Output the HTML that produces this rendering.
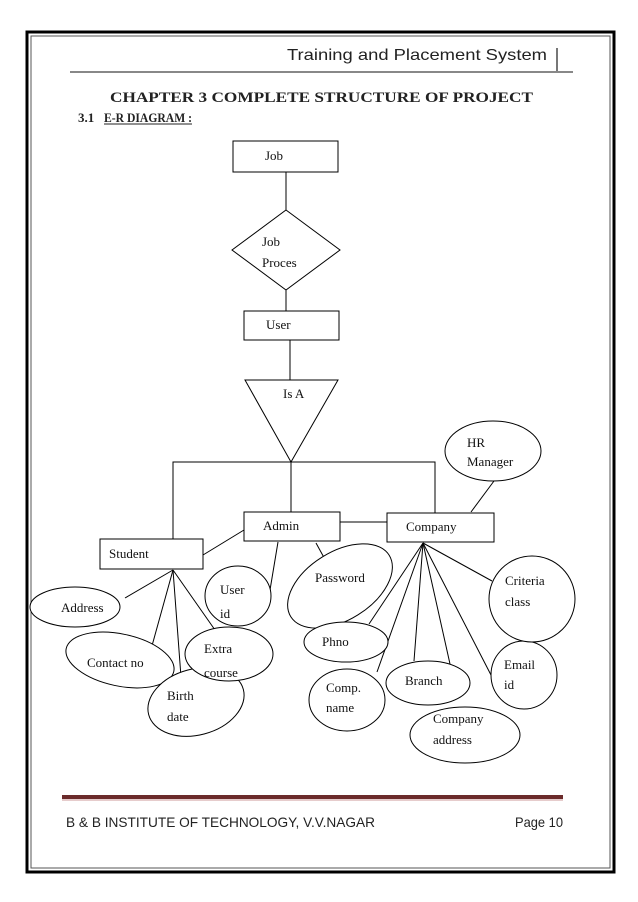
<!DOCTYPE html>
<html><head><meta charset="utf-8"><style>
html,body{margin:0;padding:0;background:#fff}
svg{display:block}
</style></head><body>
<svg width="638" height="902" viewBox="0 0 638 902" xmlns="http://www.w3.org/2000/svg">
<defs>
<clipPath id="cx"><ellipse cx="229" cy="654" rx="44" ry="27"/></clipPath>
<clipPath id="cu"><ellipse cx="238" cy="596" rx="33" ry="30"/></clipPath>
</defs>
<rect x="27" y="32" width="587" height="840" fill="none" stroke="#000" stroke-width="3"/>
<rect x="31" y="36" width="579" height="832" fill="none" stroke="#555" stroke-width="1"/>
<g font-family="Liberation Sans, sans-serif" font-size="16" fill="#222">
<text x="287" y="60" textLength="260" lengthAdjust="spacingAndGlyphs">Training and Placement System</text>
</g>
<line x1="557" y1="48" x2="557" y2="72" stroke="#777" stroke-width="2"/>
<line x1="70" y1="72" x2="573" y2="72" stroke="#888" stroke-width="2"/>
<g font-family="Liberation Serif, serif" font-weight="bold" fill="#222">
<text x="110" y="102" font-size="15" textLength="423" lengthAdjust="spacingAndGlyphs">CHAPTER 3 COMPLETE STRUCTURE  OF PROJECT</text>
<text x="78" y="122" font-size="13">3.1</text>
<text x="104" y="122" font-size="13" textLength="88" lengthAdjust="spacingAndGlyphs">E-R DIAGRAM :</text>
</g>
<line x1="104" y1="124" x2="192" y2="124" stroke="#222" stroke-width="1"/>
<g stroke="#000" stroke-width="1" fill="#fff">
<rect x="233" y="141" width="105" height="31"/>
<line x1="286" y1="172" x2="286" y2="210"/>
<polygon points="286,210 340,250 286,290 232,250"/>
<line x1="286" y1="290" x2="286" y2="311"/>
<rect x="244" y="311" width="95" height="29"/>
<line x1="290" y1="340" x2="290" y2="380"/>
<polygon points="245,380 338,380 291,462"/>
<polyline fill="none" points="173,539 173,462 435,462 435,513"/>
<line x1="291" y1="462" x2="291" y2="512"/>
<line x1="340" y1="522" x2="387" y2="522"/>
<line x1="203" y1="555" x2="244" y2="530"/>
<line x1="471" y1="512" x2="494" y2="481"/>
<line x1="278" y1="542" x2="270" y2="590"/>
<line x1="316" y1="543" x2="327" y2="563"/>
<line x1="173" y1="570" x2="125" y2="598"/>
<line x1="173" y1="570" x2="150" y2="653"/>
<line x1="173" y1="570" x2="181" y2="677"/>
<line x1="173" y1="570" x2="215" y2="630"/>
<line x1="423" y1="543" x2="369" y2="624"/>
<line x1="423" y1="543" x2="377" y2="672"/>
<line x1="423" y1="543" x2="414" y2="661"/>
<line x1="423" y1="543" x2="450" y2="664"/>
<line x1="423" y1="543" x2="491" y2="675"/>
<line x1="423" y1="543" x2="492" y2="581"/>
<rect x="244" y="512" width="96" height="29"/>
<rect x="387" y="513" width="107" height="29"/>
<rect x="100" y="539" width="103" height="30"/>
<ellipse cx="493" cy="451" rx="48" ry="30"/>
<ellipse cx="75" cy="607" rx="45" ry="20"/>
<ellipse cx="120" cy="660" rx="55" ry="26" transform="rotate(12 120 660)"/>
<ellipse cx="196" cy="702" rx="49" ry="33" transform="rotate(-15 196 702)"/>
<ellipse cx="229" cy="654" rx="44" ry="27"/>
<ellipse cx="238" cy="596" rx="33" ry="30"/>
<ellipse cx="340" cy="586" rx="58" ry="34" transform="rotate(-32 340 586)"/>
<ellipse cx="346" cy="642" rx="42" ry="20"/>
<ellipse cx="347" cy="700" rx="38" ry="31"/>
<ellipse cx="428" cy="683" rx="42" ry="22"/>
<ellipse cx="465" cy="735" rx="55" ry="28"/>
<ellipse cx="524" cy="675" rx="33" ry="34"/>
<ellipse cx="532" cy="599" rx="43" ry="43"/>
</g>
<g font-family="Liberation Serif, serif" font-size="13" fill="#111">
<text x="265" y="160">Job</text>
<text x="262" y="246">Job</text>
<text x="262" y="267">Proces</text>
<text x="266" y="329">User</text>
<text x="283" y="398">Is A</text>
<text x="263" y="530">Admin</text>
<text x="406" y="531">Company</text>
<text x="109" y="558">Student</text>
<text x="467" y="447">HR</text>
<text x="467" y="466">Manager</text>
<text x="61" y="612">Address</text>
<text x="87" y="667">Contact no</text>
<text x="167" y="700">Birth</text>
<text x="167" y="721">date</text>
<text x="204" y="653">Extra</text>
<text x="204" y="677" clip-path="url(#cx)">course</text>
<text x="220" y="594">User</text>
<text x="220" y="618" clip-path="url(#cu)">id</text>
<text x="315" y="582">Password</text>
<text x="322" y="646">Phno</text>
<text x="326" y="692">Comp.</text>
<text x="326" y="712">name</text>
<text x="405" y="685">Branch</text>
<text x="433" y="723">Company</text>
<text x="433" y="744">address</text>
<text x="504" y="669">Email</text>
<text x="504" y="689">id</text>
<text x="505" y="585">Criteria</text>
<text x="505" y="606">class</text>
</g>
<line x1="62" y1="797" x2="563" y2="797" stroke="#6b2b2b" stroke-width="4"/>
<line x1="62" y1="800" x2="563" y2="800" stroke="#c99" stroke-width="1"/>
<g font-family="Liberation Sans, sans-serif" font-size="14" fill="#222">
<text x="66" y="827" textLength="309" lengthAdjust="spacingAndGlyphs">B &amp; B INSTITUTE OF TECHNOLOGY, V.V.NAGAR</text>
<text x="515" y="827" textLength="48" lengthAdjust="spacingAndGlyphs">Page 10</text>
</g>
</svg>
</body></html>
